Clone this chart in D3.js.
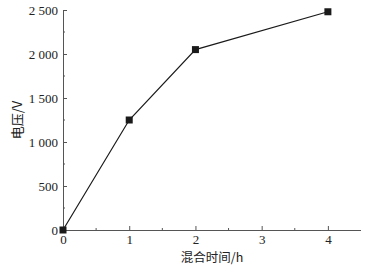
<!DOCTYPE html>
<html>
<head>
<meta charset="utf-8">
<script src="https://cdn.jsdelivr.net/npm/d3@7"></script>
<style>
  body { margin: 0; background: #fff; }
  svg text { font-family: "Liberation Serif", "DejaVu Serif", serif; fill: #222; }
</style>
</head>
<body>
<svg id="chart"></svg>
<script>
// Chart size
const width = 368, height = 266;

// Data
const mixHours = [0, 1, 2, 4];
const voltage = [0, 1250, 2050, 2480];
const xTicks = [0, 1, 2, 3, 4];
const yTicks = [0, 500, 1000, 1500, 2000, 2500];

const margin = { left: 63, right: 7, top: 10, bottom: 36 };

const svg = d3.select("#chart")
  .attr("width", width)
  .attr("height", height);

const x = d3.scaleLinear()
  .domain([0, 4.5])
  .range([margin.left, width - margin.right]);

const y = d3.scaleLinear()
  .domain([0, 2500])
  .range([height - margin.bottom, margin.top]);

// thousands with a space, like "2 500"
const fmt = d => d3.format(",")(d).replace(",", " ");

// Minor ticks
const xMinor = d3.range(0.5, 4.5, 1);
const yMinor = d3.range(250, 2500, 500);

const axisColor = "#555";

// X axis, ticks point inward (up)
const xAxis = svg.append("g")
  .attr("transform", `translate(0, ${y(0)})`)
  .call(d3.axisBottom(x).tickValues(xTicks).tickSizeInner(-4).tickSizeOuter(0).tickPadding(5).tickFormat(d3.format("d")));
xAxis.select(".domain").attr("stroke", axisColor).attr("d", `M${x(0)},0.5H${x(4.5)}`);
xAxis.selectAll(".tick line").attr("stroke", axisColor);
xAxis.selectAll(".tick text").attr("font-size", 13).attr("fill", "#222");
xAxis.selectAll(".minor")
  .data(xMinor)
  .join("line")
  .attr("class", "minor")
  .attr("x1", d => x(d)).attr("x2", d => x(d))
  .attr("y1", 0).attr("y2", -2)
  .attr("stroke", axisColor);

// Y axis, ticks point inward (right)
const yAxis = svg.append("g")
  .attr("transform", `translate(${x(0)}, 0)`)
  .call(d3.axisLeft(y).tickValues(yTicks).tickSizeInner(-4).tickSizeOuter(0).tickPadding(5).tickFormat(fmt));
yAxis.select(".domain").attr("stroke", axisColor);
yAxis.selectAll(".tick line").attr("stroke", axisColor);
yAxis.selectAll(".tick text").attr("font-size", 13).attr("fill", "#222");
yAxis.selectAll(".minor")
  .data(yMinor)
  .join("line")
  .attr("class", "minor")
  .attr("y1", d => y(d)).attr("y2", d => y(d))
  .attr("x1", 0).attr("x2", 2)
  .attr("stroke", axisColor);

// Data line
const points = mixHours.map((h, i) => [h, voltage[i]]);
svg.append("path")
  .datum(points)
  .attr("fill", "none")
  .attr("stroke", "#1a1a1a")
  .attr("stroke-width", 1.2)
  .attr("d", d3.line().x(d => x(d[0])).y(d => y(d[1])));

// Square markers
const sz = 7;
svg.selectAll(".marker")
  .data(points)
  .join("rect")
  .attr("class", "marker")
  .attr("x", d => x(d[0]) - sz / 2)
  .attr("y", d => y(d[1]) - sz / 2)
  .attr("width", sz)
  .attr("height", sz)
  .attr("fill", "#1a1a1a");

// Axis titles
svg.append("text")
  .attr("x", (x(0) + x(4.5)) / 2)
  .attr("y", 262)
  .attr("text-anchor", "middle")
  .attr("font-size", 12.5)
  .style("font-family", "'Noto Sans CJK SC', 'Liberation Serif', serif")
  .text("混合时间/h");

svg.append("text")
  .attr("transform", `translate(22, ${y(1250)}) rotate(-90)`)
  .attr("text-anchor", "middle")
  .attr("font-size", 13)
  .style("font-family", "'Noto Sans CJK SC', 'Liberation Serif', serif")
  .text("电压/V");
</script>
</body>
</html>
